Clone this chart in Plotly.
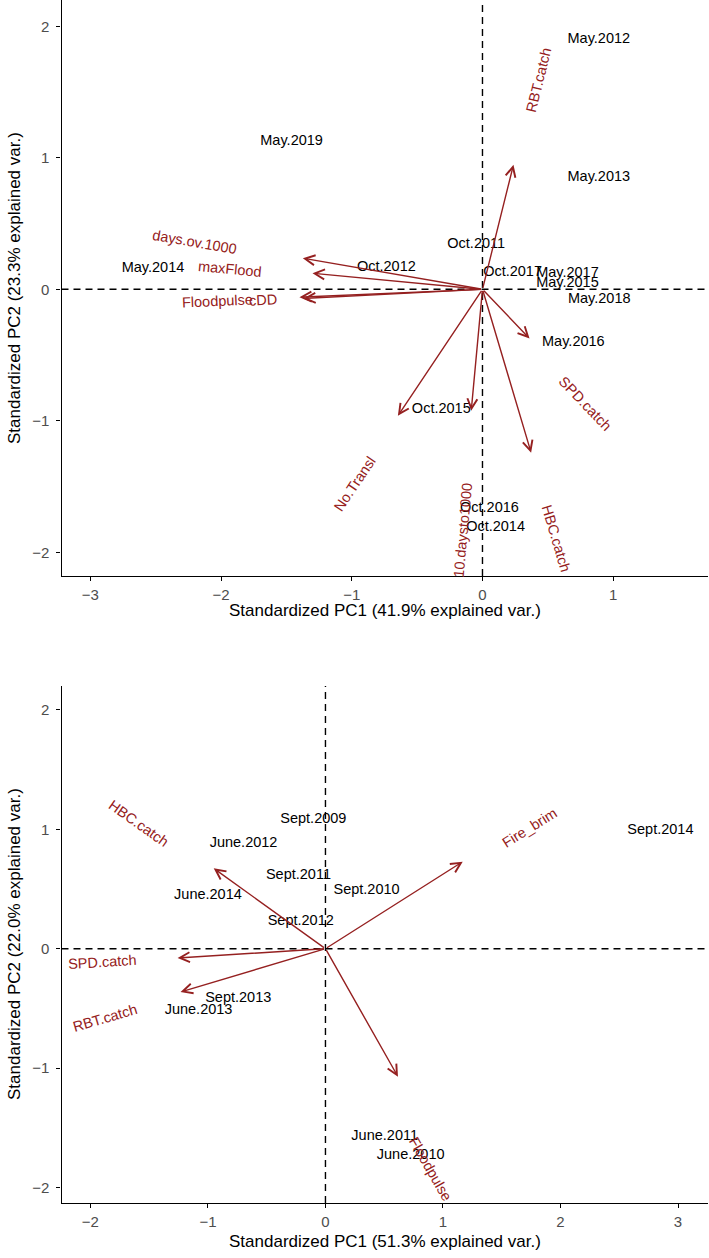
import math
import plotly.graph_objects as go

# ---------------- Top panel data ----------------
top_obs_labels = ["May.2012", "May.2013", "May.2019", "May.2014", "Oct.2012", "Oct.2011",
                  "Oct.2017", "May.2017", "May.2015", "May.2018", "May.2016", "Oct.2015",
                  "Oct.2016", "Oct.2014"]
top_obs_x = [0.89, 0.89, -1.46, -2.52, -0.735, -0.048, 0.23, 0.65, 0.65, 0.893, 0.695, -0.315, 0.053, 0.10]
top_obs_y = [1.90, 0.855, 1.125, 0.158, 0.17, 0.343, 0.13, 0.122, 0.046, -0.076, -0.405, -0.916, -1.667, -1.81]

top_var_names = ["RBT.catch", "days.ov.1000", "maxFlood", "Floodpulse", "cDD", "SPD.catch",
                 "HBC.catch", "No.Transl", "10.daysto1000"]
top_var_x = [0.237, -1.374, -1.30, -1.40, -1.37, 0.36, 0.372, -0.647, -0.086]
top_var_y = [0.947, 0.237, 0.122, -0.06, -0.07, -0.374, -1.242, -0.962, -0.924]
top_lab_x = [0.427, -2.2, -1.93, -2.03, -1.68, 0.79, 0.563, -0.977, -0.15]
top_lab_y = [1.595, 0.36, 0.158, -0.092, -0.079, -0.87, -1.89, -1.483, -1.83]

# ---------------- Bottom panel data ----------------
bot_obs_labels = ["Sept.2014", "Sept.2009", "June.2012", "Sept.2011", "Sept.2010", "June.2014",
                  "Sept.2012", "Sept.2013", "June.2013", "June.2011", "June.2010"]
bot_obs_x = [2.85, -0.103, -0.697, -0.23, 0.35, -1.0, -0.21, -0.742, -1.08, 0.504, 0.725]
bot_obs_y = [0.994, 1.084, 0.883, 0.611, 0.486, 0.444, 0.226, -0.413, -0.513, -1.569, -1.728]

bot_var_names = ["HBC.catch", "Fire_brim", "SPD.catch", "RBT.catch", "Floodpulse"]
bot_var_x = [-0.951, 1.168, -1.258, -1.233, 0.617]
bot_var_y = [0.673, 0.729, -0.078, -0.363, -1.072]
bot_lab_x = [-1.595, 1.733, -1.90, -1.877, 0.894]
bot_lab_y = [1.05, 1.011, -0.111, -0.58, -1.845]

top_ticks = [-3, -2, -1, 0, 1]
bot_ticks = [-2, -1, 0, 1, 2, 3]
y_ticks = [-2, -1, 0, 1, 2]

top_xtitle = "Standardized PC1 (41.9% explained var.)"
top_ytitle = "Standardized PC2 (23.3% explained var.)"
bot_xtitle = "Standardized PC1 (51.3% explained var.)"
bot_ytitle = "Standardized PC2 (22.0% explained var.)"

RED = "#952020"
FONT = "Liberation Sans, Arial, sans-serif"
LABEL_SIZE = 14.5
W, H = 709, 1258

fig = go.Figure()

fig.add_trace(go.Scatter(x=top_obs_x, y=top_obs_y, text=top_obs_labels, mode="text",
                         textposition="middle center",
                         textfont=dict(family=FONT, size=LABEL_SIZE, color="black"),
                         xaxis="x", yaxis="y", showlegend=False, hoverinfo="skip",
                         cliponaxis=False))
fig.add_trace(go.Scatter(x=bot_obs_x, y=bot_obs_y, text=bot_obs_labels, mode="text",
                         textposition="middle center",
                         textfont=dict(family=FONT, size=LABEL_SIZE, color="black"),
                         xaxis="x2", yaxis="y2", showlegend=False, hoverinfo="skip",
                         cliponaxis=False))

annotations = []
shapes = []


def add_panel(xr, yr, vx, vy, lx, ly, names):
    xref, yref = xr, yr
    # dashed zero lines
    shapes.append(dict(type="line", xref=xref, yref=yref + " domain", x0=0, x1=0, y0=0, y1=1,
                       line=dict(color="black", width=1.4, dash="7px,5px")))
    shapes.append(dict(type="line", xref=xref + " domain", yref=yref, x0=0, x1=1, y0=0, y1=0,
                       line=dict(color="black", width=1.4, dash="7px,5px")))
    for tx, ty, px, py, nm in zip(vx, vy, lx, ly, names):
        annotations.append(dict(x=tx, y=ty, ax=0, ay=0, xref=xref, yref=yref,
                                axref=xref, ayref=yref, text="", showarrow=True,
                                arrowhead=5, arrowsize=1.4, arrowwidth=1.4,
                                arrowcolor=RED, standoff=0, startstandoff=0))
        ang = math.degrees(math.atan(ty / tx))
        annotations.append(dict(x=px, y=py, xref=xref, yref=yref, text=nm, showarrow=False,
                                textangle=-ang, xanchor="center", yanchor="middle",
                                font=dict(family=FONT, size=LABEL_SIZE, color=RED)))


add_panel("x", "y", top_var_x, top_var_y, top_lab_x, top_lab_y, top_var_names)
add_panel("x2", "y2", bot_var_x, bot_var_y, bot_lab_x, bot_lab_y, bot_var_names)

# axis titles
title_font = dict(family=FONT, size=17, color="black")
annotations.append(dict(x=384.75 / W, y=1 - 610 / H, xref="paper", yref="paper", text=top_xtitle,
                        showarrow=False, font=title_font, xanchor="center", yanchor="middle"))
annotations.append(dict(x=14 / W, y=1 - 288 / H, xref="paper", yref="paper", text=top_ytitle,
                        showarrow=False, font=title_font, textangle=-90,
                        xanchor="center", yanchor="middle"))
annotations.append(dict(x=384.75 / W, y=1 - 1241 / H, xref="paper", yref="paper", text=bot_xtitle,
                        showarrow=False, font=title_font, xanchor="center", yanchor="middle"))
annotations.append(dict(x=14 / W, y=1 - 944 / H, xref="paper", yref="paper", text=bot_ytitle,
                        showarrow=False, font=title_font, textangle=-90,
                        xanchor="center", yanchor="middle"))

axis_common = dict(showline=True, linecolor="black", linewidth=1.4, ticks="outside",
                   ticklen=4, tickwidth=1.2, tickcolor="black", showgrid=False, zeroline=False,
                   tickfont=dict(family=FONT, size=15, color="#4D4D4D"), mirror=False,
                   automargin=False)

x_dom = [61.5 / W, 708 / W]
fig.update_layout(
    width=W, height=H,
    margin=dict(l=0, r=0, t=0, b=0, pad=0, autoexpand=False),
    paper_bgcolor="white", plot_bgcolor="white",
    showlegend=False,
    xaxis=dict(domain=x_dom, range=[-3.22, 1.725], tickvals=top_ticks, anchor="y",
               ticklabelstandoff=1, **axis_common),
    yaxis=dict(domain=[1 - 576 / H, 1.0], range=[-2.18, 2.2], tickvals=y_ticks, anchor="x",
               ticklabelstandoff=4, **axis_common),
    xaxis2=dict(domain=x_dom, range=[-2.246, 3.255], tickvals=bot_ticks, anchor="y2",
                ticklabelstandoff=1, **axis_common),
    yaxis2=dict(domain=[1 - 1203 / H, 1 - 686 / H], range=[-2.13, 2.2], tickvals=y_ticks,
                anchor="x2", ticklabelstandoff=4, **axis_common),
    annotations=annotations,
    shapes=shapes,
)

fig.write_html(
    "out.html",
    config={"displayModeBar": False},
    post_script="document.body.style.margin='0px';document.body.style.padding='0px';"
                "document.body.style.overflow='hidden';",
)
